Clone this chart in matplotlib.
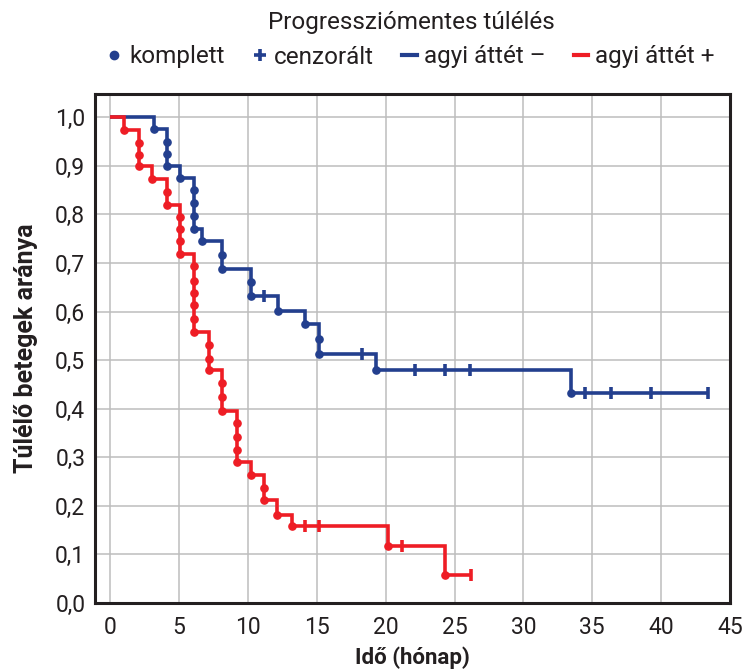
import numpy as np
import matplotlib
matplotlib.use("Agg")
import matplotlib.pyplot as plt
from matplotlib.lines import Line2D
from matplotlib.ticker import FuncFormatter

plt.rcParams['font.family'] = ['Roboto', 'DejaVu Sans']

# ---- data ----
blue_event_times = [3.15, 4.15, 4.15, 4.15, 5.1, 6.1, 6.1, 6.1, 6.1, 6.7,
                    8.15, 8.15, 10.2, 10.2, 12.2, 14.15, 15.15, 15.15, 19.3, 33.45]
blue_event_surv = [0.975, 0.950, 0.925, 0.900, 0.875, 0.850, 0.823, 0.797, 0.771, 0.745,
                   0.717, 0.687, 0.661, 0.632, 0.602, 0.574, 0.544, 0.512, 0.479, 0.432]
blue_censor_times = [11.2, 18.25, 22.15, 24.3, 26.1, 34.45, 36.35, 39.3, 43.4]

red_event_times = [1.0, 2.1, 2.1, 2.1, 3.05, 4.1, 4.1, 5.05, 5.05, 5.05, 5.05,
                   6.1, 6.1, 6.1, 6.1, 6.1, 6.1, 7.15, 7.15, 7.15, 8.15, 8.15, 8.15,
                   9.2, 9.2, 9.2, 9.2, 10.25, 11.2, 11.2, 12.1, 13.2, 20.2, 24.3]
red_event_surv = [0.974, 0.948, 0.923, 0.900, 0.874, 0.847, 0.820, 0.795, 0.770, 0.745, 0.718,
                  0.693, 0.664, 0.638, 0.614, 0.585, 0.558, 0.532, 0.503, 0.479,
                  0.452, 0.425, 0.396, 0.370, 0.342, 0.316, 0.290, 0.263, 0.237, 0.212,
                  0.181, 0.158, 0.118, 0.057]
red_censor_times = [14.15, 15.15, 21.2, 26.2]

x_ticks = [0, 5, 10, 15, 20, 25, 30, 35, 40, 45]
y_ticks = [0.0, 0.1, 0.2, 0.3, 0.4, 0.5, 0.6, 0.7, 0.8, 0.9, 1.0]

title_text = "Progressziómentes túlélés"
legend_labels = ["komplett", "cenzorált", "agyi áttét –", "agyi áttét +"]
x_label = "Idő (hónap)"
y_label = "Túlélő betegek aránya"

BLUE = "#233F8E"
RED = "#EE1D25"
TXT = "#231F20"

W, H = 742, 670
fig = plt.figure(figsize=(W / 100, H / 100), dpi=100)
ax = fig.add_axes([95 / W, 1 - 603 / H, (730 - 95) / W, (603 - 94) / H])


def level_at(times, surv, t):
    times = np.asarray(times)
    idx = np.searchsorted(times, t, side='right') - 1
    return 1.0 if idx < 0 else surv[idx]


def draw_curve(times, surv, ctimes, color, z):
    end = max(max(times), max(ctimes))
    xs = [0.0] + list(times) + [end]
    ys = [1.0] + list(surv) + [surv[-1]]
    ax.step(xs, ys, where='post', color=color, lw=2.6, zorder=z,
            solid_joinstyle='miter', solid_capstyle='butt')
    ax.plot(times, surv, 'o', color=color, ms=5.2, zorder=z + 0.1)
    clev = [level_at(times, surv, t) for t in ctimes]
    ax.plot(ctimes, clev, '|', color=color, ms=8, mew=2.6, zorder=z + 0.1)


draw_curve(blue_event_times, blue_event_surv, blue_censor_times, BLUE, 3)
draw_curve(red_event_times, red_event_surv, red_censor_times, RED, 4)

ax.set_xlim(-1.1, 45)
ax.set_ylim(0, 1.048)
ax.set_xticks(x_ticks)
ax.set_yticks(y_ticks)
ax.yaxis.set_major_formatter(FuncFormatter(lambda v, p: f"{v:.1f}".replace('.', ',')))
ax.grid(True, color="#BDBDBD", lw=1.1)
ax.set_axisbelow(True)
ax.tick_params(axis='both', length=0, labelsize=16.5, colors=TXT)
ax.tick_params(axis='x', pad=9)
ax.tick_params(axis='y', pad=7)
for s in ax.spines.values():
    s.set_color("#231F20")
    s.set_linewidth(2.2)

ax.set_xlabel(x_label, fontsize=16, fontweight='bold', color=TXT, labelpad=6)
ax.set_ylabel(y_label, fontsize=18, fontweight='bold', color=TXT, labelpad=12)

fig.text(411 / W, 1 - 22 / H, title_text, ha='center', va='center',
         fontsize=17.5, color=TXT)

handles = [
    Line2D([], [], ls='none', marker='o', color=BLUE, ms=6),
    Line2D([], [], ls='none', marker='+', color=BLUE, ms=9, mew=2.6),
    Line2D([], [], color=BLUE, lw=3),
    Line2D([], [], color=RED, lw=3),
]
leg = fig.legend(handles, legend_labels, ncol=4, frameon=False,
                 loc='center', bbox_to_anchor=(411 / W, 1 - 57 / H),
                 bbox_transform=fig.transFigure, fontsize=17.5,
                 handlelength=0.6, handletextpad=0.3, columnspacing=1.15,
                 borderpad=0, borderaxespad=0)
for t in leg.get_texts():
    t.set_color(TXT)

fig.savefig("out.png", dpi=100)
